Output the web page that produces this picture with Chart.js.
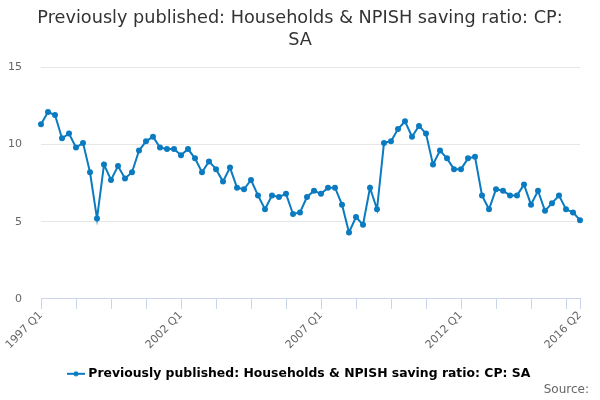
<!DOCTYPE html>
<html lang="en">
<head>
  <meta charset="UTF-8">
  <title>Households & NPISH saving ratio</title>
  <script src="https://cdn.jsdelivr.net/npm/chart.js"></script>
  <style>
    html, body { margin: 0; padding: 0; background: #fff; }
    #wrap { width: 600px; height: 400px; }
  </style>
</head>
<body>
  <div id="wrap"><canvas id="savingChart"></canvas></div>

  <script>
    // quarters from 1997 Q1 to 2016 Q2
    const years = [1997, 1998, 1999, 2000, 2001, 2002, 2003, 2004, 2005, 2006,
                   2007, 2008, 2009, 2010, 2011, 2012, 2013, 2014, 2015, 2016];
    const quarters = ["Q1", "Q2", "Q3", "Q4"];
    const labels = [];
    years.forEach(y => quarters.forEach(q => labels.push(y + " " + q)));
    labels.length = 78;

    const savingRatio = [
      11.3, 12.1, 11.9, 10.4, 10.7, 9.8, 10.1, 8.2, 5.2, 8.7,
      7.7, 8.6, 7.8, 8.2, 9.6, 10.2, 10.5, 9.8, 9.7, 9.7,
      9.3, 9.7, 9.1, 8.2, 8.9, 8.4, 7.6, 8.5, 7.2, 7.1,
      7.7, 6.7, 5.8, 6.7, 6.6, 6.8, 5.5, 5.6, 6.6, 7.0,
      6.8, 7.2, 7.2, 6.1, 4.3, 5.3, 4.8, 7.2, 5.8, 10.1,
      10.2, 11.0, 11.5, 10.5, 11.2, 10.7, 8.7, 9.6, 9.1, 8.4,
      8.4, 9.1, 9.2, 6.7, 5.8, 7.1, 7.0, 6.7, 6.7, 7.4,
      6.1, 7.0, 5.7, 6.2, 6.7, 5.8, 5.6, 5.1
    ];
    const shownLabels = ["1997 Q1", "2002 Q1", "2007 Q1", "2012 Q1", "2016 Q2"];
    const seriesName = "Previously published: Households & NPISH saving ratio: CP: SA";
    const lineColor = "#0b7bc1";

    // legend marker: short line with a dot
    const marker = document.createElement("canvas");
    marker.width = 18; marker.height = 8;
    const mctx = marker.getContext("2d");
    mctx.strokeStyle = lineColor; mctx.lineWidth = 2;
    mctx.beginPath(); mctx.moveTo(0, 4); mctx.lineTo(18, 4); mctx.stroke();
    mctx.fillStyle = lineColor;
    mctx.beginPath(); mctx.arc(9, 4, 2.5, 0, Math.PI * 2); mctx.fill();

    const sourcePlugin = {
      id: "sourceText",
      afterDraw(chart) {
        const ctx = chart.ctx;
        ctx.save();
        ctx.font = "12px 'DejaVu Sans'";
        ctx.fillStyle = "#666";
        ctx.textAlign = "right";
        ctx.textBaseline = "middle";
        ctx.fillText("Source:", 589, 390);
        ctx.restore();
      }
    };

    const last = labels.length - 1;

    new Chart(document.getElementById("savingChart"), {
      type: "line",
      data: {
        labels,
        datasets: [{
          label: seriesName,
          data: savingRatio,
          borderColor: lineColor,
          backgroundColor: lineColor,
          borderWidth: 2,
          pointRadius: 2,
          pointHoverRadius: 3,
          tension: 0
        }]
      },
      options: {
        responsive: true,
        maintainAspectRatio: false,
        animation: false,
        layout: { padding: { left: 0, right: 0, top: 4, bottom: 10 } },
        plugins: {
          title: {
            display: true,
            text: ["Previously published: Households & NPISH saving ratio: CP:", "SA"],
            color: "#333",
            font: { family: "'DejaVu Sans'", size: 17.7, weight: "normal", lineHeight: 1.22 },
            padding: { top: 4, bottom: 16 }
          },
          legend: {
            position: "bottom",
            labels: {
              color: "#333",
              font: { family: "'DejaVu Sans'", size: 12.4, weight: "bold" },
              usePointStyle: true,
              pointStyle: marker,
              padding: 16,
              generateLabels: () => [{
                text: seriesName,
                pointStyle: marker,
                fillStyle: lineColor,
                strokeStyle: lineColor,
                lineWidth: 0,
                datasetIndex: 0
              }]
            }
          },
          tooltip: { enabled: false }
        },
        scales: {
          x: {
            grid: {
              drawOnChartArea: false,
              tickLength: 10,
              color: c => (c.index % 5 === 0 || c.index === last) ? "#ccd6eb" : "transparent"
            },
            border: { color: "#ccd6eb" },
            ticks: {
              autoSkip: false,
              maxRotation: 45,
              minRotation: 45,
              color: "#666",
              font: { family: "'DejaVu Sans'", size: 11 },
              padding: 0,
              callback: function (v) {
                const l = this.getLabelForValue(v);
                return shownLabels.includes(l) ? l : "";
              }
            }
          },
          y: {
            min: 0,
            max: 15,
            afterFit: s => { s.width = 41; },
            ticks: {
              stepSize: 5,
              color: "#666",
              font: { family: "'DejaVu Sans'", size: 11 },
              padding: 19
            },
            grid: { color: "#e6e6e6", drawTicks: false },
            border: { display: false }
          },
          // empty right-hand axis, only keeps the plot clear of the right edge
          yRight: {
            position: "right",
            afterFit: s => { s.width = 20; },
            ticks: { display: false },
            grid: { display: false },
            border: { display: false }
          }
        }
      },
      plugins: [sourcePlugin]
    });
  </script>
</body>
</html>
